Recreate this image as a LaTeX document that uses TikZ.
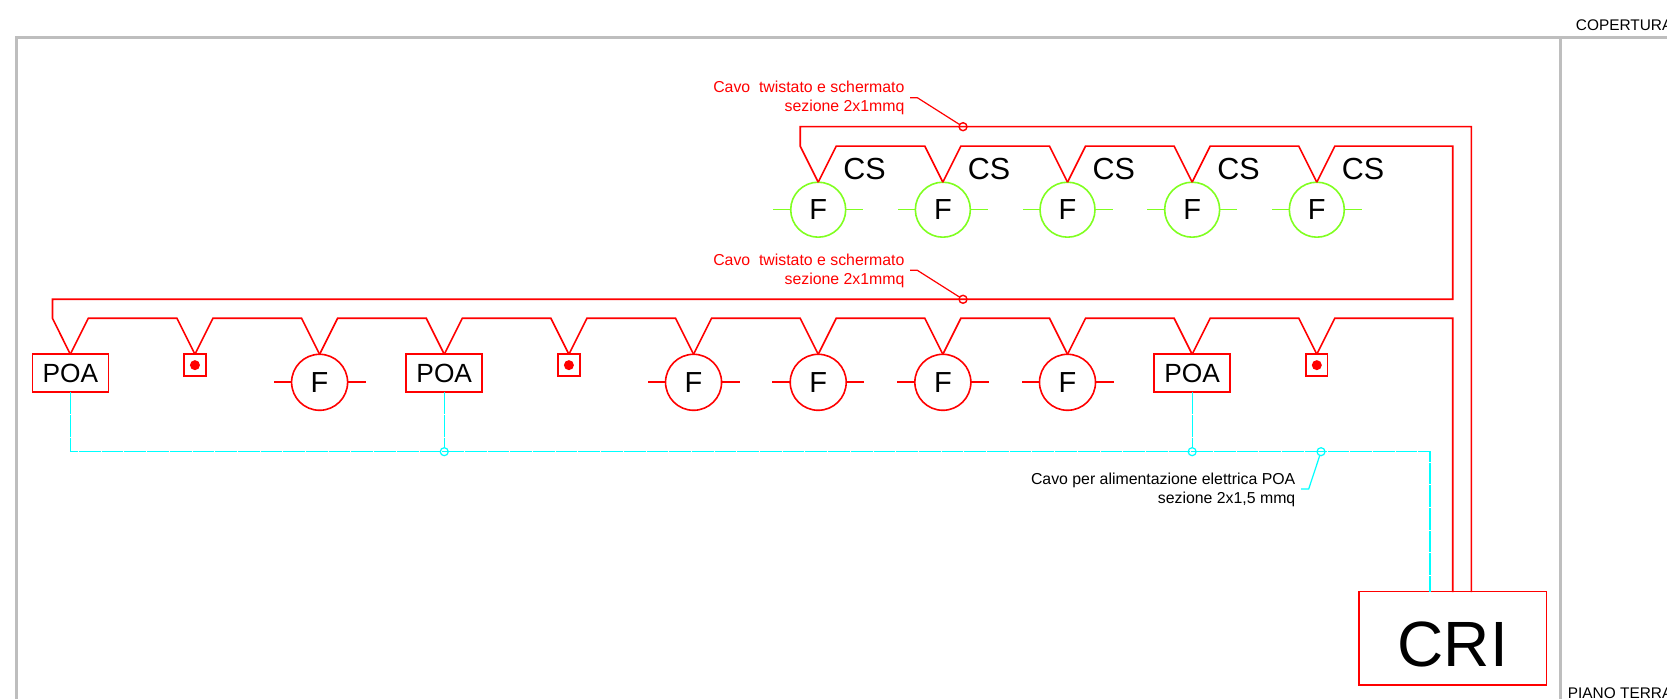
\documentclass[tikz,border=0pt]{standalone}
\usepackage{fontspec}
\setmainfont{Liberation Sans}
\definecolor{framegray}{HTML}{BEBEBE}
\definecolor{csgreen}{HTML}{80FF20}
\definecolor{wirecyan}{HTML}{00FFFF}
\tikzset{
	frameline/.style={line width=3pt, color=framegray},
	redwire/.style={line width=1.6pt, color=red, line join=miter},
	cyanwire/.style={line width=1.2pt, color=wirecyan, dash pattern=on 21.7pt off 1pt},
	fred/.style={draw=red, line width=1.6pt, circle, minimum size=56pt, inner sep=0pt, outer sep=0pt, font=\fontsize{29}{30}\selectfont},
	fgreen/.style={fred, draw=csgreen, minimum size=55pt},
	poabox/.style={draw=red, line width=1.6pt, minimum width=76pt, minimum height=38pt, inner sep=0pt, outer sep=0pt, font=\fontsize{26.3}{27}\selectfont},
	pushbox/.style={draw=red, line width=1.6pt, minimum size=21.7pt, inner sep=0pt, outer sep=0pt},
	pushdot/.style={fill=red, circle, minimum size=10pt, inner sep=0pt},
	ringred/.style={draw=red, line width=1.4pt, circle, minimum size=8pt, inner sep=0pt, outer sep=0pt},
	ringcyan/.style={draw=wirecyan, line width=1.2pt, circle, minimum size=8pt, inner sep=0pt, outer sep=0pt},
	cslabel/.style={font=\fontsize{30.5}{31}\selectfont, inner sep=0pt},
	note/.style={font=\fontsize{15.85}{19}\selectfont, align=right, anchor=east, inner sep=0pt},
	floorlabel/.style={font=\fontsize{15.4}{16}\selectfont, anchor=base west, inner sep=0pt},
	bus/.style={to path={(\tikztostart.north) -- ++(18,36) -- ([shift={(-18,36)}]\tikztotarget.north) -- (\tikztotarget.north)}}
}
\begin{document}
\begin{tikzpicture}[x=1pt, y=1pt]
	\useasboundingbox (0,0) rectangle (1667,699);
	\clip (0,0) rectangle (1667,699);
	\draw[frameline] (16,0) |- (1667,661.5);
	\draw[frameline] (1560,0) -- (1560,661.5);
	\node[floorlabel] (cop) at (1575.7,668) {COPERTURA};
	\node[floorlabel] (pt) at (1567.7,1) {PIANO TERRA};

	\node[fgreen] (fc1) at (818.2,489.3) {F};
	\node[fgreen] (fc2) at (942.85,489.3) {F};
	\node[fgreen] (fc3) at (1067.5,489.3) {F};
	\node[fgreen] (fc4) at (1192.15,489.3) {F};
	\node[fgreen] (fc5) at (1316.8,489.3) {F};
	\node[cslabel] (cs1) at (864.5,530.3) {CS};
	\node[cslabel] (cs2) at (989.15,530.3) {CS};
	\node[cslabel] (cs3) at (1113.8,530.3) {CS};
	\node[cslabel] (cs4) at (1238.45,530.3) {CS};
	\node[cslabel] (cs5) at (1363.1,530.3) {CS};
	\foreach \n in {fc1,fc2,fc3,fc4,fc5} {
		\draw[csgreen, line width=1.4pt] (\n.west) -- ++(-17.5,0);
		\draw[csgreen, line width=1.4pt] (\n.east) -- ++(17.5,0);
	}

	\node[poabox] (poa1) at (70.3,325.7) {POA};
	\node[pushbox] (sq1) at (194.95,333.85) {};
	\node[fred] (fr1) at (319.6,316.7) {F};
	\node[poabox] (poa2) at (444.25,325.7) {POA};
	\node[pushbox] (sq2) at (568.9,333.85) {};
	\node[fred] (fr2) at (693.55,316.7) {F};
	\node[fred] (fr3) at (818.2,316.7) {F};
	\node[fred] (fr4) at (942.85,316.7) {F};
	\node[fred] (fr5) at (1067.5,316.7) {F};
	\node[poabox] (poa3) at (1192.15,325.7) {POA};
	\node[pushbox] (sq3) at (1316.8,333.85) {};
	\node[pushdot] (dot1) at (sq1.center) {};
	\node[pushdot] (dot2) at (sq2.center) {};
	\node[pushdot] (dot3) at (sq3.center) {};
	\foreach \n in {fr1,fr2,fr3,fr4,fr5} {
		\draw[redwire] (\n.west) -- ++(-18,0);
		\draw[redwire] (\n.east) -- ++(18,0);
	}

	\node[draw=red, line width=1.6pt, minimum width=187.7pt, minimum height=93.3pt, inner sep=0pt, outer sep=0pt, font=\fontsize{64}{65}\selectfont, text height=56pt, text depth=0pt] (cri) at (1452.8,60.9) {CRI};
	\coordinate (criA) at (1471.3,107);
	\coordinate (criB) at (1452.7,107);
	\coordinate (criC) at (1430,107);
	\coordinate (loopA) at (1452.7,552.8);
	\coordinate (loopB) at (52.5,399.7);

	\draw[redwire] (fc1.north) -- ++(-18,36) -- ++(0,19.5) -| (criA);
	\draw[redwire] (fc5.north) -- ++(18,36) -- (loopA) |- (loopB) -- ++(0,-19) -- (poa1.north);
	\draw[redwire] (sq3.north) -- ++(18,36) -| (criB);
	\draw[redwire] (fc1) to[bus] (fc2);
	\draw[redwire] (fc2) to[bus] (fc3);
	\draw[redwire] (fc3) to[bus] (fc4);
	\draw[redwire] (fc4) to[bus] (fc5);
	\draw[redwire] (poa1) to[bus] (sq1);
	\draw[redwire] (sq1) to[bus] (fr1);
	\draw[redwire] (fr1) to[bus] (poa2);
	\draw[redwire] (poa2) to[bus] (sq2);
	\draw[redwire] (sq2) to[bus] (fr2);
	\draw[redwire] (fr2) to[bus] (fr3);
	\draw[redwire] (fr3) to[bus] (fr4);
	\draw[redwire] (fr4) to[bus] (fr5);
	\draw[redwire] (fr5) to[bus] (poa3);
	\draw[redwire] (poa3) to[bus] (sq3);

	\coordinate (busEnd) at (1430,247.3);
	\node[ringcyan] (j1) at (444.25,247.3) {};
	\node[ringcyan] (j2) at (1192.15,247.3) {};
	\node[ringcyan] (j3) at (1321,247.3) {};
	\draw[cyanwire] (poa1.south) |- (busEnd) -- (criC);
	\draw[cyanwire] (poa2.south) -- (j1);
	\draw[cyanwire] (poa3.south) -- (j2);

	\node[ringred] (r1) at (963,572.3) {};
	\node[ringred] (r2) at (963,399.7) {};
	\node[note, text=red] (t1) at (904.6,600.8) {Cavo\ \ twistato e schermato\\sezione 2x1mmq};
	\node[note, text=red] (t2) at (904.6,428.2) {Cavo\ \ twistato e schermato\\sezione 2x1mmq};
	\node[note] (t3) at (1295.5,209.3) {Cavo per alimentazione elettrica POA\\sezione 2x1,5 mmq};
	\coordinate (c1) at (910,601.3);
	\coordinate (c2) at (910,428.7);
	\coordinate (c3) at (1301,210);
	\draw[redwire, line width=1.2pt] (c1) -- ++(7.3,0) -- (r1);
	\draw[redwire, line width=1.2pt] (c2) -- ++(7.3,0) -- (r2);
	\draw[wirecyan, line width=1.2pt] (c3) -- ++(7.7,0) -- (j3);
\end{tikzpicture}
\end{document}
